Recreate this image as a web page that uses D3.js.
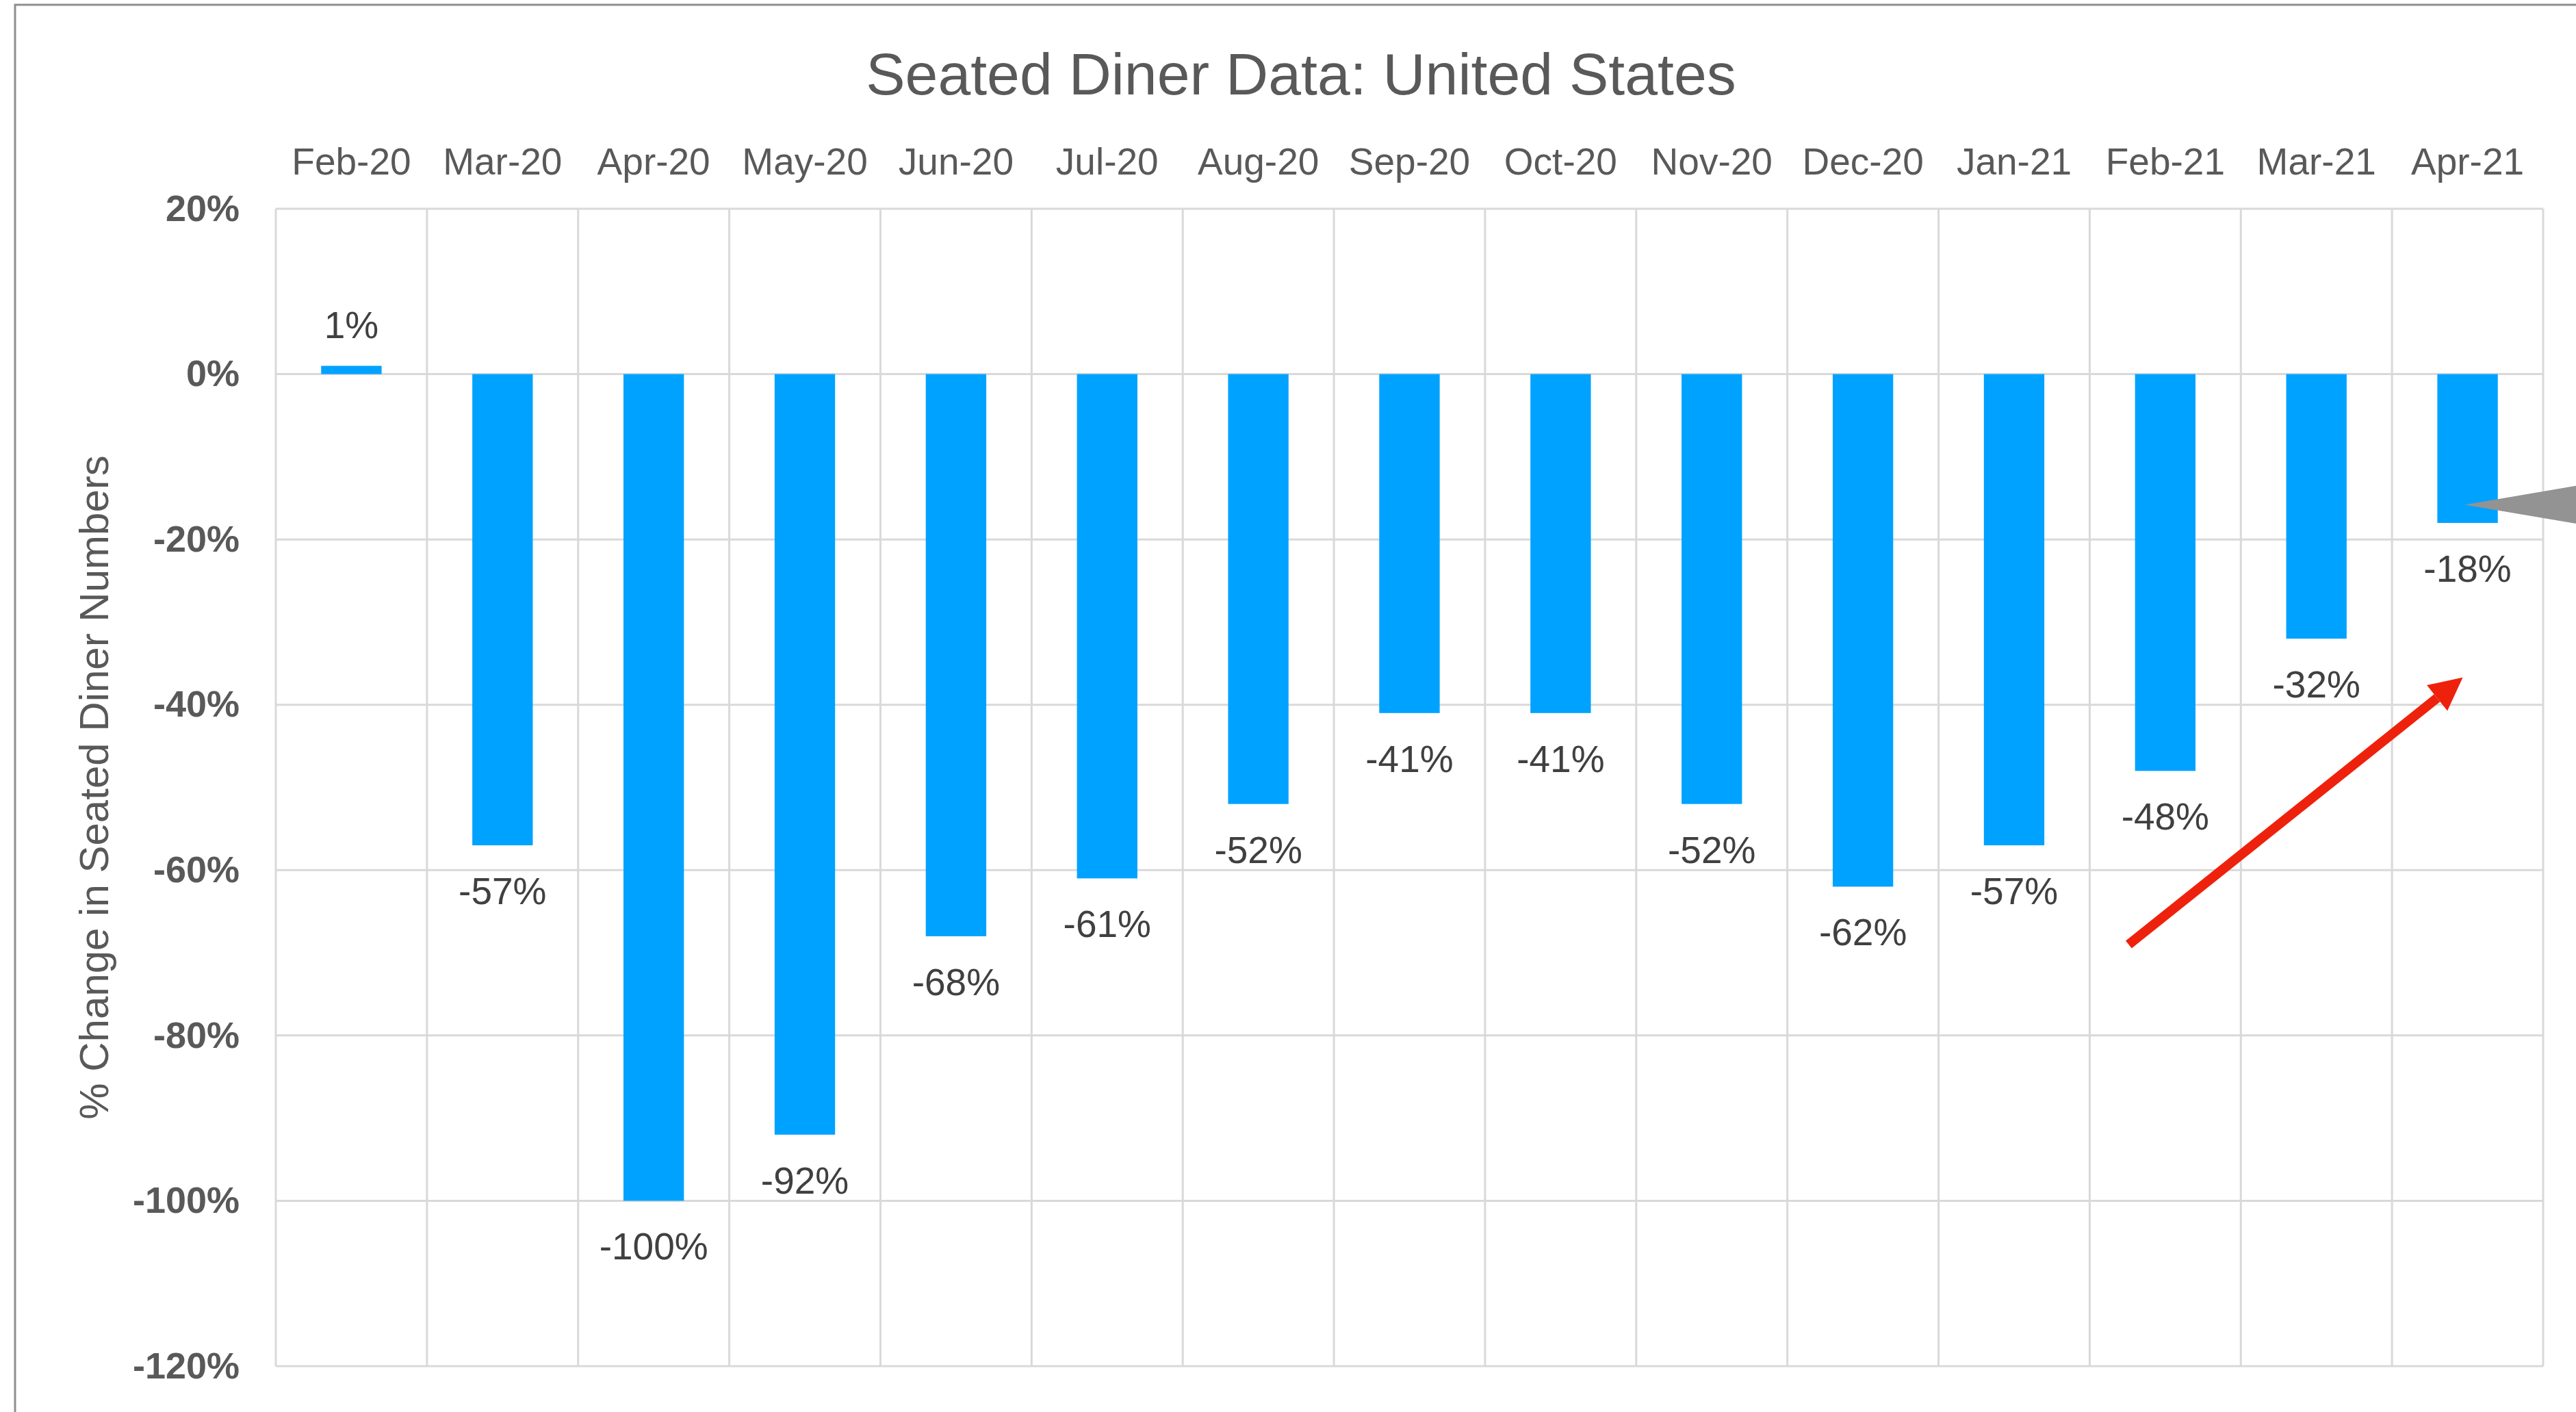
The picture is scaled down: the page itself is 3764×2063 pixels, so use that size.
<!DOCTYPE html>
<html>
<head>
<meta charset="utf-8">
<script src="https://cdn.jsdelivr.net/npm/d3@7.9.0/dist/d3.min.js"></script>
<style>
  body { margin: 0; background: #fff; }
  svg { display: block; }
</style>
</head>
<body>
<svg id="chart"></svg>
<script>
const months = ["Feb-20", "Mar-20", "Apr-20", "May-20", "Jun-20", "Jul-20", "Aug-20", "Sep-20",
                "Oct-20", "Nov-20", "Dec-20", "Jan-21", "Feb-21", "Mar-21", "Apr-21"];
const changes = [1, -57, -100, -92, -68, -61, -52, -41, -41, -52, -62, -57, -48, -32, -18];
const yTicks = [20, 0, -20, -40, -60, -80, -100, -120];
const title = "Seated Diner Data: United States";
const yTitle = "% Change in Seated Diner Numbers";

const W = 3764, H = 2063;
const font = "'Liberation Sans', Arial, Helvetica, sans-serif";

const svg = d3.select("#chart")
    .attr("width", W)
    .attr("height", H);

svg.append("rect")
    .attr("width", W).attr("height", H)
    .attr("fill", "#fff");

// outer frame (right/bottom run off the picture)
svg.append("rect")
    .attr("x", 22).attr("y", 7)
    .attr("width", 3800).attr("height", 2100)
    .attr("fill", "none")
    .attr("stroke", "#8f8f8f")
    .attr("stroke-width", 3);

const x = d3.scaleBand()
    .domain(months)
    .range([403, 3716])
    .padding(0);

const y = d3.scaleLinear()
    .domain([-120, 20])
    .range([1996, 305]);

const data = months.map((m, i) => ({ month: m, value: changes[i] }));

// grid
const grid = svg.append("g").attr("class", "grid")
    .attr("stroke", "#d9d9d9")
    .attr("stroke-width", 3);

grid.selectAll("line.h")
    .data(yTicks)
    .enter().append("line")
    .attr("class", "h")
    .attr("x1", x.range()[0]).attr("x2", x.range()[1])
    .attr("y1", d => y(d)).attr("y2", d => y(d));

grid.selectAll("line.v")
    .data(months.map(m => x(m)).concat([x.range()[1]]))
    .enter().append("line")
    .attr("class", "v")
    .attr("x1", d => d).attr("x2", d => d)
    .attr("y1", y(20)).attr("y2", y(-120));

// bars
const barW = x.bandwidth() * 0.4;
svg.selectAll("rect.bar")
    .data(data)
    .enter().append("rect")
    .attr("class", "bar")
    .attr("x", d => x(d.month) + (x.bandwidth() - barW) / 2)
    .attr("y", d => y(Math.max(0, d.value)))
    .attr("width", barW)
    .attr("height", d => Math.abs(y(d.value) - y(0)))
    .attr("fill", "#00a2ff");

// value labels
svg.selectAll("text.val")
    .data(data)
    .enter().append("text")
    .attr("class", "val")
    .attr("x", d => x(d.month) + x.bandwidth() / 2)
    .attr("y", d => d.value >= 0 ? y(d.value) - 40 : y(d.value) + 86)
    .attr("text-anchor", "middle")
    .style("font-family", font)
    .style("font-size", "55px")
    .style("fill", "#404040")
    .text(d => d.value + "%");

// month labels on top
const xAxis = svg.append("g")
    .attr("transform", `translate(0, ${y(20)})`)
    .call(d3.axisTop(x).tickSize(0).tickPadding(50));
xAxis.select(".domain").remove();
xAxis.selectAll("text")
    .style("font-family", font)
    .style("font-size", "55px")
    .style("fill", "#595959");

// y axis labels
const yAxis = svg.append("g")
    .attr("transform", `translate(${x.range()[0]}, 0)`)
    .call(d3.axisLeft(y).tickValues(yTicks).tickFormat(d => d + "%").tickSize(0).tickPadding(53));
yAxis.select(".domain").remove();
yAxis.selectAll("text")
    .style("font-family", font)
    .style("font-size", "54px")
    .style("font-weight", "bold")
    .style("fill", "#595959");

// titles
svg.append("text")
    .attr("x", 1901).attr("y", 138)
    .attr("text-anchor", "middle")
    .style("font-family", font)
    .style("font-size", "86px")
    .style("fill", "#595959")
    .text(title);

svg.append("text")
    .attr("transform", `translate(158, ${(y(20) + y(-120)) / 2}) rotate(-90)`)
    .attr("text-anchor", "middle")
    .style("font-family", font)
    .style("font-size", "60px")
    .style("fill", "#595959")
    .text(yTitle);

// red trend arrow
const tail = [x("Feb-21") + 57, y(-69)];
const tip = [x("Apr-21") + x.bandwidth() / 2 - 7, y(-36.7)];
const ang = Math.atan2(tip[1] - tail[1], tip[0] - tail[0]);
const headLen = 48, headHalf = 24;
const base = [tip[0] - headLen * Math.cos(ang), tip[1] - headLen * Math.sin(ang)];
svg.append("line")
    .attr("x1", tail[0]).attr("y1", tail[1])
    .attr("x2", base[0]).attr("y2", base[1])
    .attr("stroke", "#ee220c")
    .attr("stroke-width", 14);
svg.append("path")
    .attr("d", d3.line()([
        tip,
        [base[0] + headHalf * Math.sin(ang), base[1] - headHalf * Math.cos(ang)],
        [base[0] - headHalf * Math.sin(ang), base[1] + headHalf * Math.cos(ang)]
    ]) + "Z")
    .attr("fill", "#ee220c");

// grey callout pointer coming from the right
const gTip = [x("Apr-21") + x.bandwidth() / 2 - 4, y(-15.8)];
svg.append("path")
    .attr("d", d3.line()([gTip, [gTip[0] + 200, gTip[1] - 34], [gTip[0] + 200, gTip[1] + 34]]) + "Z")
    .attr("fill", "#939393");
</script>
</body>
</html>
